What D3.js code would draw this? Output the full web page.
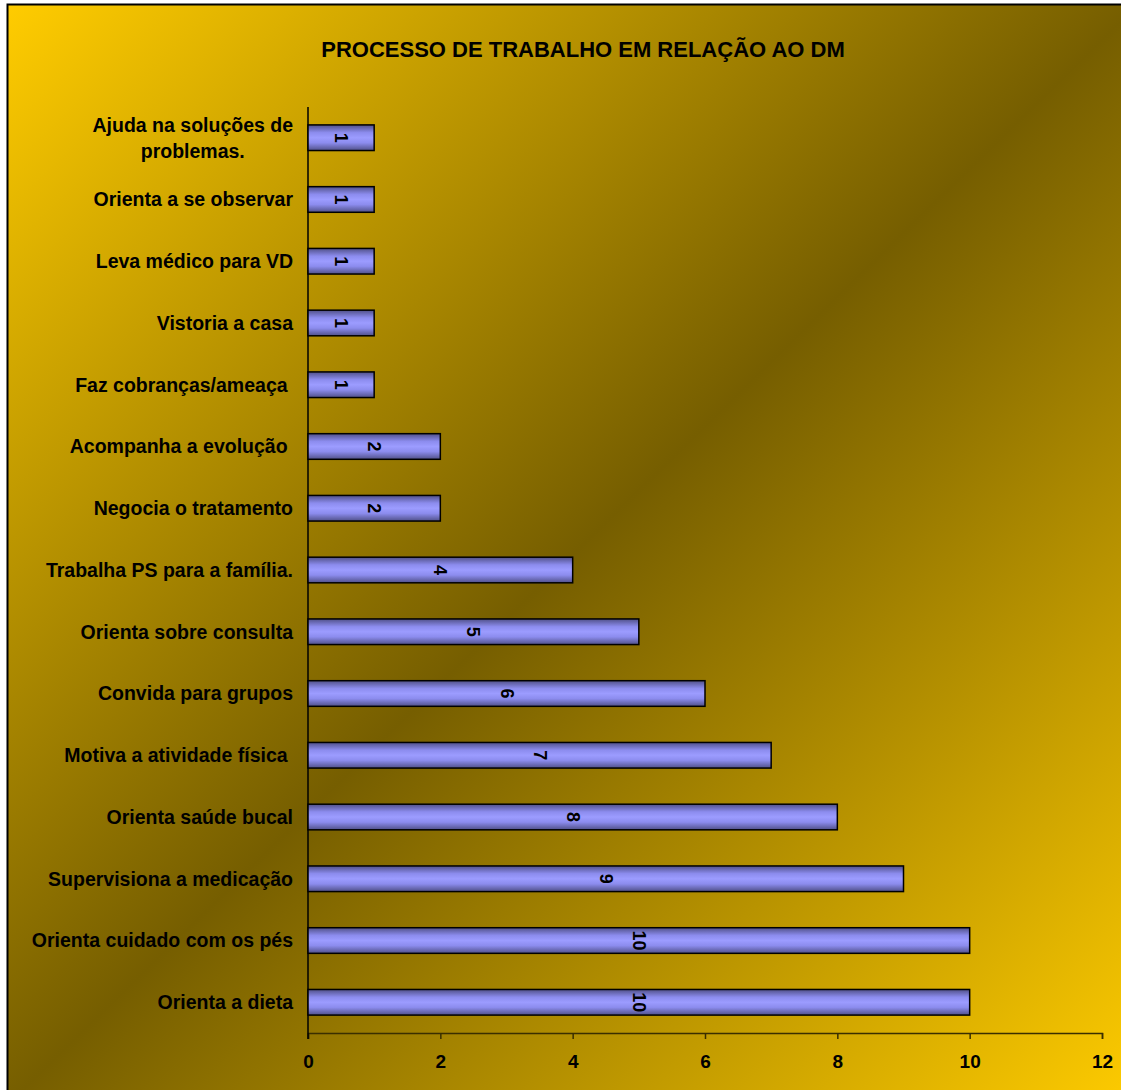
<!DOCTYPE html>
<html>
<head>
<meta charset="utf-8">
<script src="https://cdn.jsdelivr.net/npm/d3@7"></script>
<style>
  body { margin: 0; background: #fff; }
  text { font-family: "Liberation Sans", Arial, sans-serif; font-weight: bold; fill: #000; white-space: pre; }
</style>
</head>
<body>
<div id="chart"></div>
<script>
const title = "PROCESSO DE TRABALHO EM RELAÇÃO AO DM";

// categories from top to bottom, as in the picture
const categories = [
    ["Ajuda na soluções de", "problemas."],
    ["Orienta a se observar"],
    ["Leva médico para VD"],
    ["Vistoria a casa"],
    ["Faz cobranças/ameaça "],
    ["Acompanha a evolução "],
    ["Negocia o tratamento"],
    ["Trabalha PS para a família."],
    ["Orienta sobre consulta"],
    ["Convida para grupos"],
    ["Motiva a atividade física "],
    ["Orienta saúde bucal"],
    ["Supervisiona a medicação"],
    ["Orienta cuidado com os pés"],
    ["Orienta a dieta"]
];
const values = [1, 1, 1, 1, 1, 2, 2, 4, 5, 6, 7, 8, 9, 10, 10];
const xTicks = [0, 2, 4, 6, 8, 10, 12];

const W = 1121, H = 1090;
const margin = {top: 107, right: 19, bottom: 57, left: 308};

const svg = d3.select("#chart")
    .append("svg")
    .attr("width", W)
    .attr("height", H);

const defs = svg.append("defs");

//background gradient: gold corners, dark olive diagonal
const bg = defs.append("linearGradient")
    .attr("id", "bg")
    .attr("x1", 0).attr("y1", 0)
    .attr("x2", 1).attr("y2", 1);
bg.append("stop").attr("offset", "0%").attr("stop-color", "#ffcc00");
bg.append("stop").attr("offset", "50%").attr("stop-color", "#765e00");
bg.append("stop").attr("offset", "100%").attr("stop-color", "#ffcc00");

//bar gradient, darker at top and bottom edge
const bar = defs.append("linearGradient")
    .attr("id", "bar")
    .attr("x1", 0).attr("y1", 0)
    .attr("x2", 0).attr("y2", 1);
bar.append("stop").attr("offset", "0%").attr("stop-color", "#505088");
bar.append("stop").attr("offset", "30%").attr("stop-color", "#8c8cee");
bar.append("stop").attr("offset", "50%").attr("stop-color", "#9c9cff");
bar.append("stop").attr("offset", "70%").attr("stop-color", "#8c8cee");
bar.append("stop").attr("offset", "100%").attr("stop-color", "#505088");

svg.append("rect")
    .attr("x", 7.5)
    .attr("y", 4.5)
    .attr("width", W + 10)
    .attr("height", H + 10)
    .attr("fill", "url(#bg)")
    .attr("stroke", "#000")
    .attr("stroke-width", 2);

svg.append("text")
    .attr("x", 583)
    .attr("y", 57)
    .attr("font-size", "22px")
    .attr("text-anchor", "middle")
    .text(title);

//scales
const xScale = d3.scaleLinear()
    .domain([0, 12])
    .range([margin.left, W - margin.right]);

const yScale = d3.scaleBand()
    .domain(d3.range(categories.length))
    .range([margin.top, H - margin.bottom])
    .paddingInner(0.585)
    .paddingOuter(0.29);

const rowCenter = i => yScale(i) + yScale.bandwidth() / 2;

//x axis
const xAxis = svg.append("g")
    .attr("transform", `translate(0, ${H - margin.bottom})`)
    .call(d3.axisBottom(xScale).tickValues(xTicks).tickSize(6).tickPadding(16).tickFormat(d3.format("d")));
xAxis.select(".domain").attr("stroke", "#3a2f00").attr("stroke-width", 1.5);
xAxis.selectAll(".tick line").attr("stroke", "#3a2f00").attr("stroke-width", 1.5);
xAxis.selectAll(".tick text")
    .attr("font-size", "19px")
    .attr("font-family", "Liberation Sans, Arial, sans-serif")
    .attr("font-weight", "bold")
    .attr("fill", "#000");

//y axis line
svg.append("line")
    .attr("x1", xScale(0)).attr("x2", xScale(0))
    .attr("y1", margin.top)
    .attr("y2", H - margin.bottom + 6)
    .attr("stroke", "#000")
    .attr("stroke-width", 1.5);

//bars
svg.selectAll(".bar")
    .data(values)
    .enter()
    .append("rect")
    .attr("class", "bar")
    .attr("x", xScale(0))
    .attr("y", (d, i) => yScale(i))
    .attr("width", d => xScale(d) - xScale(0))
    .attr("height", yScale.bandwidth())
    .attr("fill", "url(#bar)")
    .attr("stroke", "#000")
    .attr("stroke-width", 1.5);

//value labels, turned 90 degrees
svg.selectAll(".val")
    .data(values)
    .enter()
    .append("text")
    .attr("class", "val")
    .attr("font-size", "18px")
    .attr("text-anchor", "middle")
    .attr("dominant-baseline", "central")
    .attr("transform", (d, i) => `translate(${(xScale(0) + xScale(d)) / 2}, ${rowCenter(i)}) rotate(90)`)
    .text(d => d);

//category labels
const labelRight = xScale(0) - 15;
const lineH = 26;
categories.forEach((lines, i) => {
    const t = svg.append("text")
        .attr("font-size", "19.5px")
        .attr("text-anchor", lines.length > 1 ? "middle" : "end");
    lines.forEach((s, j) => {
        t.append("tspan")
            .attr("x", labelRight)
            .attr("y", rowCenter(i) + (j - (lines.length - 1) / 2) * lineH)
            .attr("dy", "0.35em")
            .text(s);
    });
    if (lines.length > 1) {
        const widest = d3.max(t.selectAll("tspan").nodes(), n => n.getComputedTextLength());
        t.selectAll("tspan").attr("x", labelRight - widest / 2);
    }
});
</script>
</body>
</html>
